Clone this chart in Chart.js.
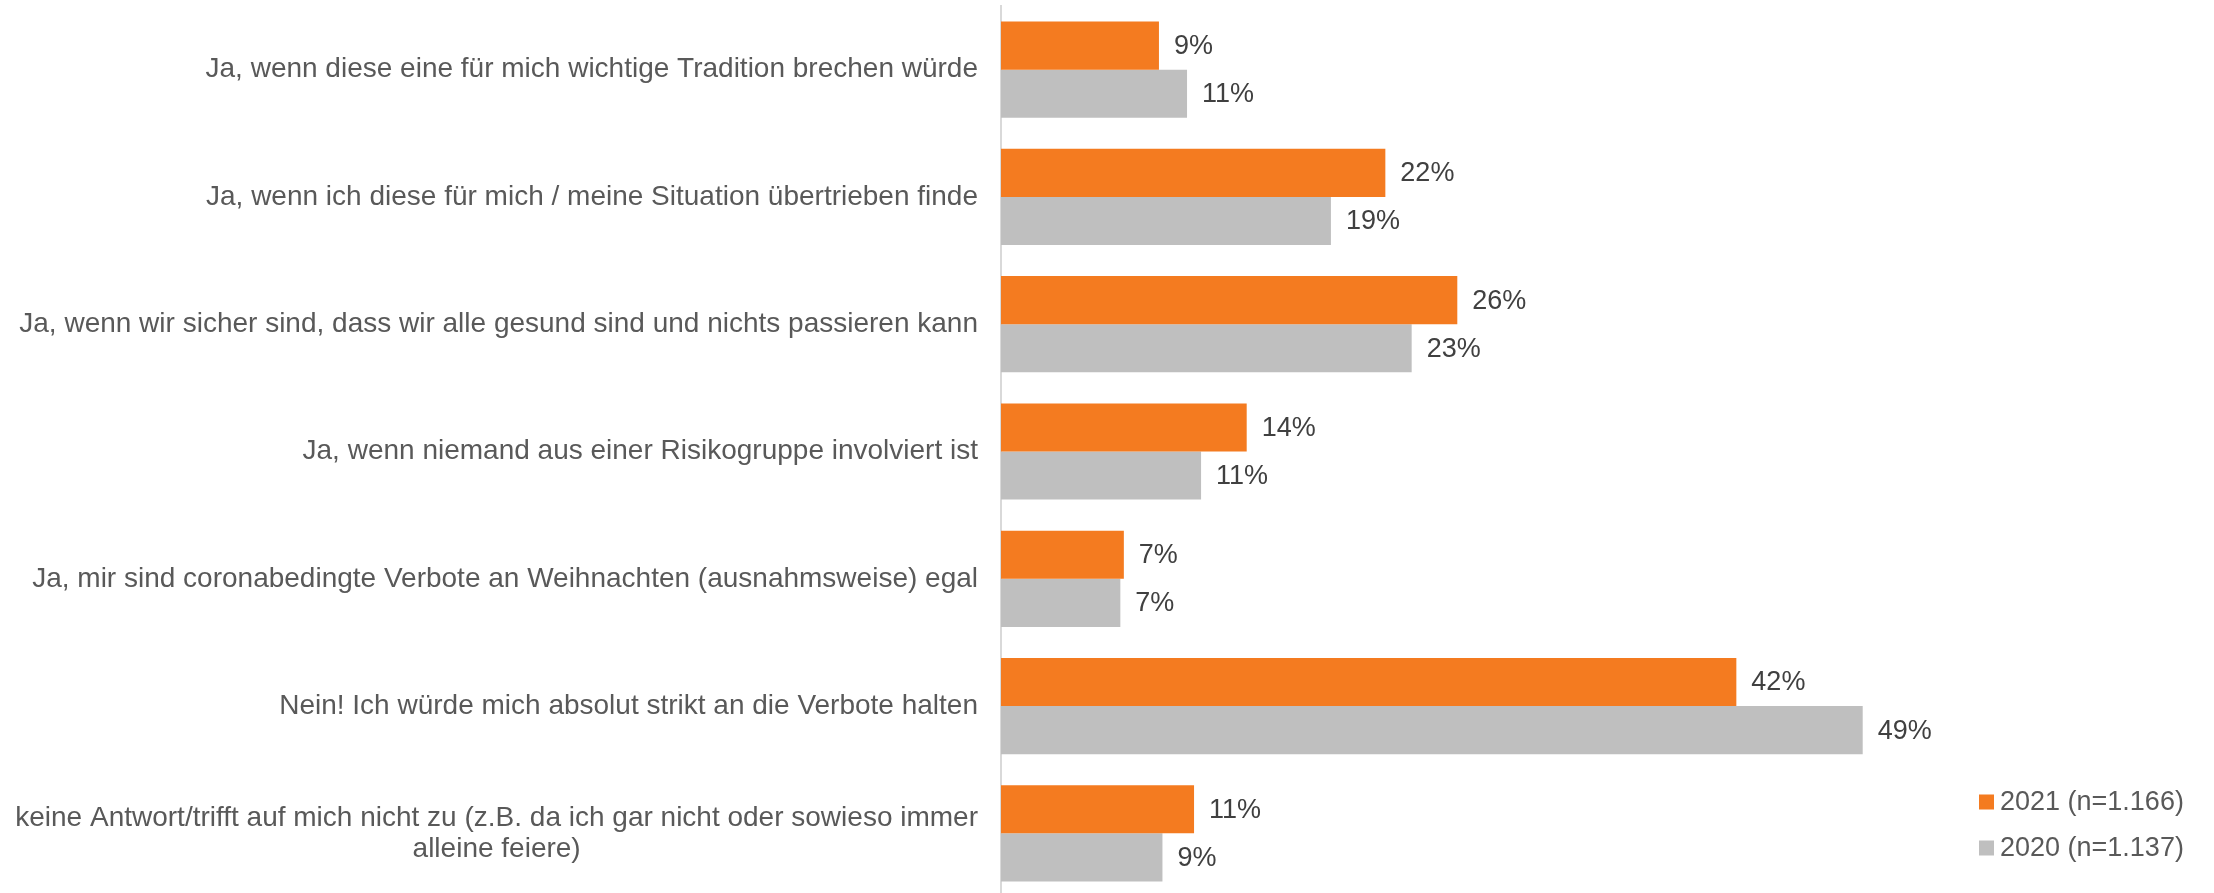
<!DOCTYPE html>
<html>
<head>
<meta charset="utf-8">
<script src="https://cdn.jsdelivr.net/npm/chart.js@4.4.0/dist/chart.umd.min.js"></script>
<style>
  html, body { margin: 0; padding: 0; background: #fff; overflow: hidden; }
  #wrap { width: 2214px; height: 897px; position: relative; }
</style>
</head>
<body>
<div id="wrap"><canvas id="chart"></canvas></div>
<script>
// categories (each entry = lines of the label)
const categories = [
  ['Ja, wenn diese eine für mich wichtige Tradition brechen würde'],
  ['Ja, wenn ich diese für mich / meine Situation übertrieben finde'],
  ['Ja, wenn wir sicher sind, dass wir alle gesund sind und nichts passieren kann'],
  ['Ja, wenn niemand aus einer Risikogruppe involviert ist'],
  ['Ja, mir sind coronabedingte Verbote an Weihnachten (ausnahmsweise) egal'],
  ['Nein! Ich würde mich absolut strikt an die Verbote halten'],
  ['keine Antwort/trifft auf mich nicht zu (z.B. da ich gar nicht oder sowieso immer', 'alleine feiere)']
];
const seriesNames = ['2021 (n=1.166)', '2020 (n=1.137)'];
// Werte in %, aus den Balkenlängen geschätzt (Beschriftung gerundet)
const values2021 = [9.0, 21.9, 26.0, 14.0, 7.0, 41.9, 11.0];
const values2020 = [10.6, 18.8, 23.4, 11.4, 6.8, 49.1, 9.2];

const FONT = '"Liberation Sans", Arial, sans-serif';

// Beschriftungen, Werte und Legende selbst zeichnen
const labelPlugin = {
  id: 'labelPlugin',
  afterDatasetsDraw(chart) {
    const ctx = chart.ctx;
    ctx.save();
    ctx.font = '27px ' + FONT;
    ctx.fillStyle = '#404040';
    ctx.textAlign = 'left';
    ctx.textBaseline = 'middle';
    chart.data.datasets.forEach((ds, d) => {
      chart.getDatasetMeta(d).data.forEach((bar, i) => {
        ctx.fillText(Math.round(ds.data[i]) + '%', bar.x + 15, bar.y + 1);
      });
    });
    ctx.restore();
  },
  afterDraw(chart) {
    const ctx = chart.ctx;
    const yScale = chart.scales.y;
    ctx.save();
    // category labels
    ctx.font = '28px ' + FONT;
    ctx.fillStyle = '#595959';
    ctx.textBaseline = 'middle';
    ctx.textAlign = 'center';
    categories.forEach((lines, i) => {
      const cy = yScale.getPixelForTick(i);
      const w = Math.max(...lines.map(l => ctx.measureText(l).width));
      const cx = chart.chartArea.left - 23 - w / 2;
      lines.forEach((l, j) => {
        ctx.fillText(l, cx, cy + (j - (lines.length - 1) / 2) * 31);
      });
    });
    // legend
    ctx.font = '27px ' + FONT;
    ctx.textAlign = 'left';
    chart.data.datasets.forEach((ds, d) => {
      const cy = 802 + d * 46;
      ctx.fillStyle = ds.backgroundColor;
      ctx.fillRect(1979, cy - 7.5, 15, 15);
      ctx.fillStyle = '#595959';
      ctx.fillText(ds.label, 2000, cy + 1);
    });
    ctx.restore();
  }
};

new Chart(document.getElementById('chart'), {
  type: 'bar',
  data: {
    labels: categories,
    datasets: [
      { label: seriesNames[0], data: values2021, backgroundColor: '#F47B20' },
      { label: seriesNames[1], data: values2020, backgroundColor: '#BFBFBF' }
    ]
  },
  options: {
    indexAxis: 'y',
    responsive: true,
    maintainAspectRatio: false,
    animation: false,
    layout: { padding: { top: 6, right: 160, bottom: 0, left: 0 } },
    datasets: { bar: { barPercentage: 1.0, categoryPercentage: 0.756 } },
    plugins: { legend: { display: false }, tooltip: { enabled: false } },
    scales: {
      x: { display: false, min: 0, max: 60 },
      y: {
        grid: { display: false, drawTicks: false },
        border: { display: true, color: '#D9D9D9', width: 2 },
        ticks: { display: false },
        afterFit(scale) { scale.width = 1001; }
      }
    }
  },
  plugins: [labelPlugin]
});
</script>
</body>
</html>
